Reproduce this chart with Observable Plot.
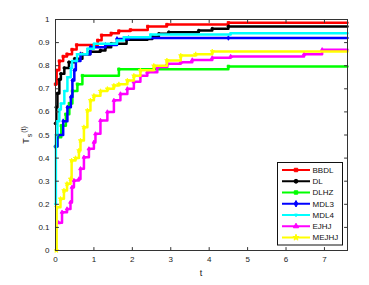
<!DOCTYPE html>
<html>
<head>
<meta charset="utf-8">
<script src="https://cdn.jsdelivr.net/npm/d3@7"></script>
<script src="https://cdn.jsdelivr.net/npm/@observablehq/plot@0.6"></script>
<style>
  html, body { margin: 0; padding: 0; background: #fff; }
  #chart svg { display: block; }
</style>
</head>
<body>
<div id="chart"></div>
<script>
// ---- data ----
const seriesNames = ["BBDL", "DL", "DLHZ", "MDL3", "MDL4", "EJHJ", "MEJHJ"];
const seriesColors = ["#ff0000", "#000000", "#00ff00", "#0000ff", "#00ffff", "#ff00ff", "#ffff00"];
const xEnd = 7.6;

const bbdlT = [0, 0.03, 0.1, 0.2, 0.3, 0.43, 0.55, 1.1, 1.2, 1.45, 1.65, 1.95, 2.4, 2.9, 4.5];
const bbdlV = [0.72, 0.78, 0.82, 0.84, 0.85, 0.87, 0.89, 0.91, 0.932, 0.94, 0.95, 0.955, 0.97, 0.978, 0.986];

const dlT = [0, 0.02, 0.05, 0.1, 0.14, 0.23, 0.35, 0.5, 0.7, 0.9, 1.17, 1.3, 1.45, 1.85, 2.39, 2.52, 2.69, 2.95, 3.73, 4.08, 4.5];
const dlV = [0.55, 0.62, 0.68, 0.74, 0.765, 0.79, 0.815, 0.83, 0.85, 0.86, 0.866, 0.88, 0.895, 0.912, 0.916, 0.925, 0.938, 0.945, 0.952, 0.96, 0.97];

const dlhzT = [0, 0.05, 0.15, 0.27, 0.36, 0.44, 0.57, 0.7, 1.65, 4.5];
const dlhzV = [0.45, 0.49, 0.54, 0.59, 0.636, 0.69, 0.72, 0.757, 0.785, 0.797];

const mdl3T = [0, 0.05, 0.2, 0.31, 0.4, 0.44, 0.49, 0.53, 0.65, 0.91, 1.3, 1.6, 1.9, 4.5];
const mdl3V = [0.45, 0.5, 0.56, 0.62, 0.664, 0.736, 0.78, 0.82, 0.85, 0.88, 0.89, 0.916, 0.92, 0.92];

const mdl4T = [0, 0.01, 0.05, 0.1, 0.14, 0.23, 0.31, 0.4, 0.43, 0.56, 0.83, 1.0, 1.6, 1.78, 2.47, 4.56];
const mdl4V = [0.2, 0.5, 0.56, 0.61, 0.636, 0.69, 0.75, 0.79, 0.82, 0.85, 0.873, 0.895, 0.909, 0.923, 0.935, 0.94];

const ejhjT = [0.08, 0.17, 0.3, 0.39, 0.43, 0.48, 0.61, 0.65, 0.74, 0.87, 1.0, 1.04, 1.17, 1.35, 1.52, 1.69, 1.87, 2.04, 2.21, 2.39, 2.65, 2.91, 3.26, 3.56, 4.08, 4.56, 6.47, 6.94];
const ejhjV = [0.12, 0.166, 0.18, 0.209, 0.274, 0.303, 0.31, 0.354, 0.404, 0.44, 0.469, 0.505, 0.563, 0.6, 0.65, 0.678, 0.7, 0.73, 0.757, 0.772, 0.794, 0.808, 0.815, 0.825, 0.834, 0.84, 0.85, 0.869];

const mejhjT = [0.02, 0.03, 0.13, 0.22, 0.3, 0.39, 0.42, 0.52, 0.61, 0.65, 0.74, 0.83, 0.91, 1.0, 1.17, 1.35, 1.52, 1.65, 1.87, 2.04, 2.21, 2.56, 2.9, 3.26, 3.65, 4.08];
const mejhjV = [0, 0.187, 0.224, 0.26, 0.289, 0.31, 0.39, 0.4, 0.433, 0.476, 0.534, 0.606, 0.65, 0.67, 0.69, 0.7, 0.714, 0.72, 0.736, 0.757, 0.78, 0.8, 0.823, 0.844, 0.85, 0.862];

const xTicks = [0, 1, 2, 3, 4, 5, 6, 7];
const yTicks = [0, 0.1, 0.2, 0.3, 0.4, 0.5, 0.6, 0.7, 0.8, 0.9, 1];
const yTickLabels = ["0", "0.1", "0.2", "0.3", "0.4", "0.5", "0.6", "0.7", "0.8", "0.9", "1"];

// ---- build tables ----
const seriesT = [bbdlT, dlT, dlhzT, mdl3T, mdl4T, ejhjT, mejhjT];
const seriesV = [bbdlV, dlV, dlhzV, mdl3V, mdl4V, ejhjV, mejhjV];

const triDown = {
  draw(context, size) {
    const s = Math.sqrt(size / (3 * Math.sqrt(3) / 4));
    const h = s * Math.sqrt(3) / 2;
    context.moveTo(0, 2 * h / 3);
    context.lineTo(s / 2, -h / 3);
    context.lineTo(-s / 2, -h / 3);
    context.closePath();
  }
};
const symbols = ["square", "circle", "square", "diamond", triDown, "triangle", "star"];

const pts = [];
const lines = [];
seriesNames.forEach((name, i) => {
  const T = seriesT[i], V = seriesV[i];
  T.forEach((t, j) => {
    pts.push({name, t, v: V[j], idx: i});
    lines.push({name, t, v: V[j], idx: i});
  });
  lines.push({name, t: xEnd, v: V[V.length - 1], idx: i});
});

const tickShape = { draw(context, l) { context.moveTo(0, 0); context.lineTo(0, -l); } };
const axisColor = "#333";

const marks = [];
seriesNames.forEach((name, i) => {
  marks.push(Plot.line(lines.filter(d => d.idx === i), {
    x: "t", y: "v", curve: "step-after",
    stroke: seriesColors[i], strokeWidth: 2.5
  }));
  marks.push(Plot.dot(pts.filter(d => d.idx === i), {
    x: "t", y: "v", symbol: () => symbols[i], r: 1.4,
    fill: seriesColors[i], stroke: seriesColors[i], strokeWidth: 0.8
  }));
});

marks.push(Plot.frame({stroke: axisColor, strokeWidth: 1}));
marks.push(Plot.vector(xTicks, {x: d => d, y: 0, length: 3, rotate: 0, anchor: "start", shape: tickShape, stroke: axisColor, strokeWidth: 1}));
marks.push(Plot.vector(xTicks, {x: d => d, y: 1, length: 3, rotate: 180, anchor: "start", shape: tickShape, stroke: axisColor, strokeWidth: 1}));
marks.push(Plot.vector(yTicks, {x: 0, y: d => d, length: 3, rotate: 90, anchor: "start", shape: tickShape, stroke: axisColor, strokeWidth: 1}));
marks.push(Plot.vector(yTicks, {x: xEnd, y: d => d, length: 3, rotate: 270, anchor: "start", shape: tickShape, stroke: axisColor, strokeWidth: 1}));
marks.push(Plot.axisX({ticks: xTicks, tickSize: 0, tickPadding: 6, fontSize: 8, fill: "#222", label: null}));
marks.push(Plot.axisY({ticks: yTicks, tickSize: 0, tickPadding: 6, fontSize: 8, fill: "#222", label: null,
  tickFormat: d => yTickLabels[yTicks.indexOf(d)]}));

const chart = Plot.plot({
  width: 369,
  height: 285,
  marginLeft: 55,
  marginRight: 22,
  marginTop: 19,
  marginBottom: 35,
  style: {fontFamily: "'Liberation Sans', Arial, sans-serif", background: "#fff"},
  x: {domain: [0, xEnd]},
  y: {domain: [0, 1]},
  marks
});

document.getElementById("chart").appendChild(chart);

// ---- axis titles and legend ----
const svg = d3.select(chart);
const font = "'Liberation Sans', Arial, sans-serif";

svg.append("text")
  .attr("x", 201).attr("y", 276)
  .attr("text-anchor", "middle")
  .attr("font-family", font).attr("font-size", 9).attr("fill", "#222")
  .text("t");

const yl = svg.append("text")
  .attr("transform", "translate(29,135) rotate(-90)")
  .attr("text-anchor", "middle")
  .attr("font-family", font).attr("font-size", 9).attr("fill", "#222");
yl.append("tspan").text("T");
yl.append("tspan").attr("font-size", 7).attr("dy", 3).attr("dx", 1).text("s");
yl.append("tspan").attr("font-size", 7).attr("dy", -6).attr("dx", 1).text("(t)");

const lg = svg.append("g");
const lx0 = 277.5, ly0 = 162.5, lw = 65, lh = 82.5;
lg.append("rect").attr("x", lx0).attr("y", ly0).attr("width", lw).attr("height", lh)
  .attr("fill", "#fff").attr("stroke", "#111").attr("stroke-width", 1);
const d3sym = {square: d3.symbolSquare, circle: d3.symbolCircle, diamond: d3.symbolDiamond,
  triangle: d3.symbolTriangle, star: d3.symbolStar};
seriesNames.forEach((name, i) => {
  const cy = 170 + i * 11.25;
  lg.append("line").attr("x1", 282).attr("x2", 310).attr("y1", cy).attr("y2", cy)
    .attr("stroke", seriesColors[i]).attr("stroke-width", 2);
  const sym = typeof symbols[i] === "string" ? d3sym[symbols[i]] : symbols[i];
  lg.append("path").attr("transform", `translate(296,${cy})`)
    .attr("d", d3.symbol(sym, 12)())
    .attr("fill", seriesColors[i]).attr("stroke", seriesColors[i]);
  lg.append("text").attr("x", 312.5).attr("y", cy).attr("dy", "0.35em")
    .attr("text-anchor", "start")
    .attr("font-family", font).attr("font-size", 8).attr("fill", "#111")
    .text(name);
});
</script>
</body>
</html>
